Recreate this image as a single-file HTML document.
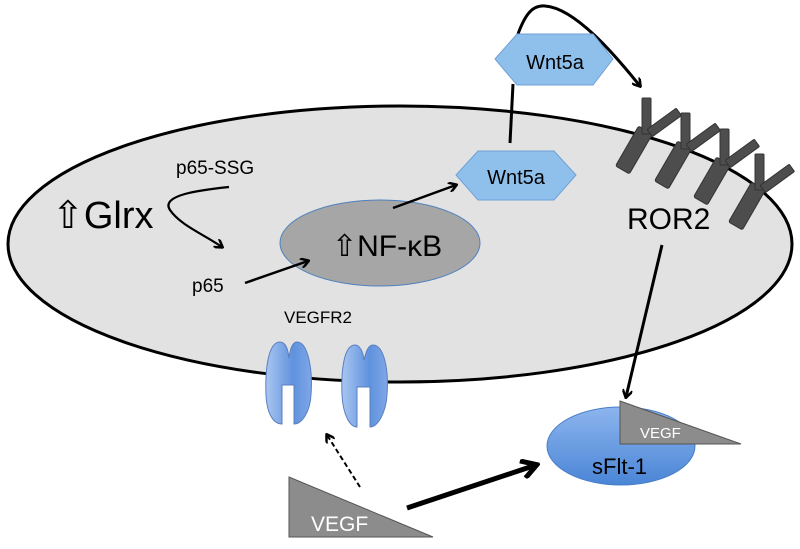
<!DOCTYPE html>
<html><head><style>body{margin:0;background:#fff}svg{display:block}text{font-family:"Liberation Sans",sans-serif}</style></head>
<body>
<svg width="800" height="549" viewBox="0 0 800 549" xmlns="http://www.w3.org/2000/svg">
<defs>
<marker id="ah" markerWidth="10" markerHeight="10" refX="8" refY="5" orient="auto" markerUnits="userSpaceOnUse"><path d="M1,0 L9,5 L1,10" fill="none" stroke="#000" stroke-width="2.5"/></marker>
<marker id="ahb" markerWidth="20" markerHeight="20" refX="16" refY="10" orient="auto" markerUnits="userSpaceOnUse"><path d="M2,1 L17,10 L2,19" fill="none" stroke="#000" stroke-width="5"/></marker>
<linearGradient id="rg" x1="0" x2="1"><stop offset="0" stop-color="#a9c6f0"/><stop offset="0.6" stop-color="#5f92de"/><stop offset="1" stop-color="#7ea7e6"/></linearGradient>
<linearGradient id="sg" x1="0" y1="0" x2="0" y2="1"><stop offset="0" stop-color="#8db5ee"/><stop offset="1" stop-color="#4a85d6"/></linearGradient>
</defs>
<ellipse cx="400" cy="244" rx="392" ry="138" fill="#e2e2e2" stroke="#000" stroke-width="3"/>
<!-- VEGFR2 -->
<g fill="url(#rg)" stroke="#5a7fc0" stroke-width="1">
<path d="M280,342 C268,342 265,370 266,395 C267,415 274,424 282,424 L282,385 L294,385 L294,424 C302,424 310,412 311,395 C313,370 308,342 297,342 C292,342 290,350 289,358 C288,350 286,342 280,342 Z"/>
<path d="M355,345 C344,345 341,370 342,395 C343,415 350,427 357,427 L357,387 L370,387 L370,427 C378,427 386,412 387,395 C389,370 384,345 373,345 C368,345 366,352 364,360 C363,352 360,345 355,345 Z"/>
</g>
<text x="284" y="323" font-size="17" fill="#000">VEGFR2</text>
<!-- NF-kB -->
<ellipse cx="380" cy="243" rx="100" ry="43" fill="#a6a6a6" stroke="#4f81bd" stroke-width="1"/>
<text x="332" y="256" font-size="30">⇧NF-κB</text>
<text x="52" y="228" font-size="38">⇧Glrx</text>
<text x="176" y="174" font-size="19">p65-SSG</text>
<text x="192" y="292" font-size="19">p65</text>
<path d="M229,187 C200,190 160,195 170,210 C180,225 205,235 222,247" fill="none" stroke="#000" stroke-width="2.2" marker-end="url(#ah)"/>
<line x1="245" y1="283" x2="308" y2="261" stroke="#000" stroke-width="2.5" marker-end="url(#ah)"/>
<line x1="393" y1="208" x2="456" y2="185" stroke="#000" stroke-width="2.5" marker-end="url(#ah)"/>
<!-- Wnt5a -->
<line x1="510" y1="143" x2="513" y2="84" stroke="#000" stroke-width="3"/>
<path d="M518,34 C525,15 532,5 545,6 C575,8 615,55 640,86" fill="none" stroke="#000" stroke-width="3" marker-end="url(#ah)"/>
<g fill="#8fc0ec" stroke="#6fa0d8" stroke-width="1">
<polygon points="495,59 517,34 593,34 613,59 593,85 517,85"/>
<polygon points="456,175 478,151 554,151 576,175 554,200 478,200"/>
</g>
<text x="555" y="69" font-size="20" text-anchor="middle">Wnt5a</text>
<text x="516" y="184" font-size="20" text-anchor="middle">Wnt5a</text>
<!-- ROR2 receptors -->
<g fill="#4d4d4d" stroke="#333" stroke-width="1">
<g id="r1">
<rect x="-8" y="-23" width="16" height="46" rx="2" transform="translate(634,150) rotate(30)"/>
<rect x="642" y="98" width="9" height="36" rx="1"/>
<rect x="-18" y="-4" width="36" height="9" rx="1" transform="translate(664,122) rotate(-36)"/>
</g>
<use href="#r1" transform="translate(39,15)"/>
<use href="#r1" transform="translate(78,31)"/>
<use href="#r1" transform="translate(113,56)"/>
</g>
<text x="627" y="229" font-size="30">ROR2</text>
<line x1="662" y1="245" x2="626" y2="397" stroke="#000" stroke-width="3" marker-end="url(#ah)"/>
<!-- sFlt-1 -->
<ellipse cx="621" cy="446" rx="74" ry="39" fill="url(#sg)" stroke="#4a7fc8" stroke-width="1"/>
<polygon points="620,401 620,444 741,444" fill="#8c8c8c" stroke="#555" stroke-width="1"/>
<text x="640" y="438" font-size="15" fill="#fff">VEGF</text>
<text x="592" y="474" font-size="22" fill="#000">sFlt-1</text>
<!-- VEGF -->
<polygon points="289,477 289,537 433,537" fill="#8c8c8c" stroke="#555" stroke-width="1"/>
<text x="311" y="531" font-size="21" fill="#fff">VEGF</text>
<line x1="360" y1="487" x2="327" y2="435" stroke="#000" stroke-width="2" stroke-dasharray="5,3" marker-end="url(#ah)"/>
<line x1="407" y1="508" x2="536" y2="465" stroke="#000" stroke-width="5" marker-end="url(#ahb)"/>
</svg>
</body></html>
